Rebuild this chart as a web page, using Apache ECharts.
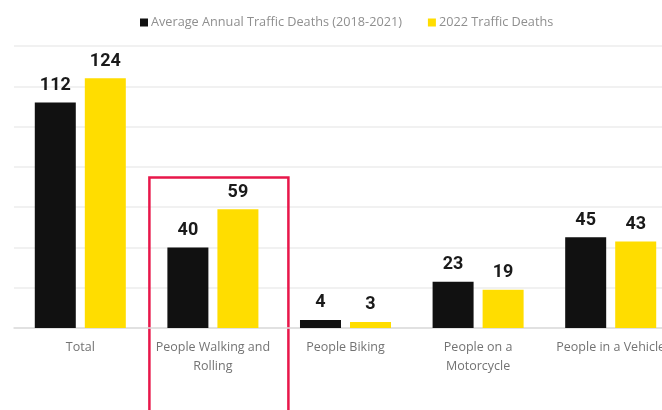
<!DOCTYPE html>
<html><head><meta charset="utf-8">
<script src="https://cdn.jsdelivr.net/npm/echarts@6/dist/echarts.min.js"></script>
<style>html,body{margin:0;padding:0;background:#fff;overflow:hidden;width:662px;height:410px}#c{width:677px;height:410px}</style>
</head><body><div id="c"></div>
<script>
var categories = ["Total", "People Walking and\nRolling", "People Biking", "People on a\nMotorcycle", "People in a Vehicle"];
var avgDeaths = [112, 40, 4, 23, 45];
var deaths2022 = [124, 59, 3, 19, 43];
var seriesNames = ["Average Annual Traffic Deaths (2018-2021)", "2022 Traffic Deaths"];

var chart = echarts.init(document.getElementById('c'), null, {renderer: 'canvas'});
var valueLabel = {show: true, position: 'top', distance: 8, color: '#1a1a1a', fontFamily: 'Roboto', fontWeight: 'bold', fontSize: 18};
chart.setOption({
  animation: false,
  backgroundColor: '#fff',
  legend: {
    top: 11, left: 135, icon: 'rect', itemWidth: 8, itemHeight: 8, itemGap: 26,
    textStyle: {color: '#8f8f8f', fontFamily: 'Open Sans', fontSize: 12.7, padding: [0, 0, 0, -2]},
    data: seriesNames
  },
  grid: {left: 14, top: 46, right: 0, height: 282},
  xAxis: {
    type: 'category', data: categories,
    axisLine: {lineStyle: {color: '#dcdcdc', width: 1.5}},
    axisTick: {show: false},
    axisLabel: {color: '#737373', fontFamily: 'Open Sans', fontSize: 12.5, margin: 10, lineHeight: 19, interval: 0}
  },
  yAxis: {
    type: 'value', min: 0, max: 140, interval: 20,
    axisLabel: {show: false}, axisLine: {show: false}, axisTick: {show: false},
    splitLine: {lineStyle: {color: '#ececec', width: 1.5}}
  },
  series: [
    {name: seriesNames[0], type: 'bar', data: avgDeaths, barWidth: 41, barGap: '22%', itemStyle: {color: '#111111'}, label: valueLabel},
    {name: seriesNames[1], type: 'bar', data: deaths2022, barWidth: 41, itemStyle: {color: '#FFDD00'}, label: valueLabel}
  ]
});
var boxCenterX = chart.convertToPixel({xAxisIndex: 0}, 1);
var boxTopY = chart.convertToPixel({yAxisIndex: 0}, 76);
chart.setOption({
  graphic: [{
    type: 'rect', left: boxCenterX - 66, top: boxTopY,
    shape: {x: 0, y: 0, width: 139, height: 260},
    style: {fill: 'none', stroke: '#E8174A', lineWidth: 2.5}
  }]
});
</script></body></html>
